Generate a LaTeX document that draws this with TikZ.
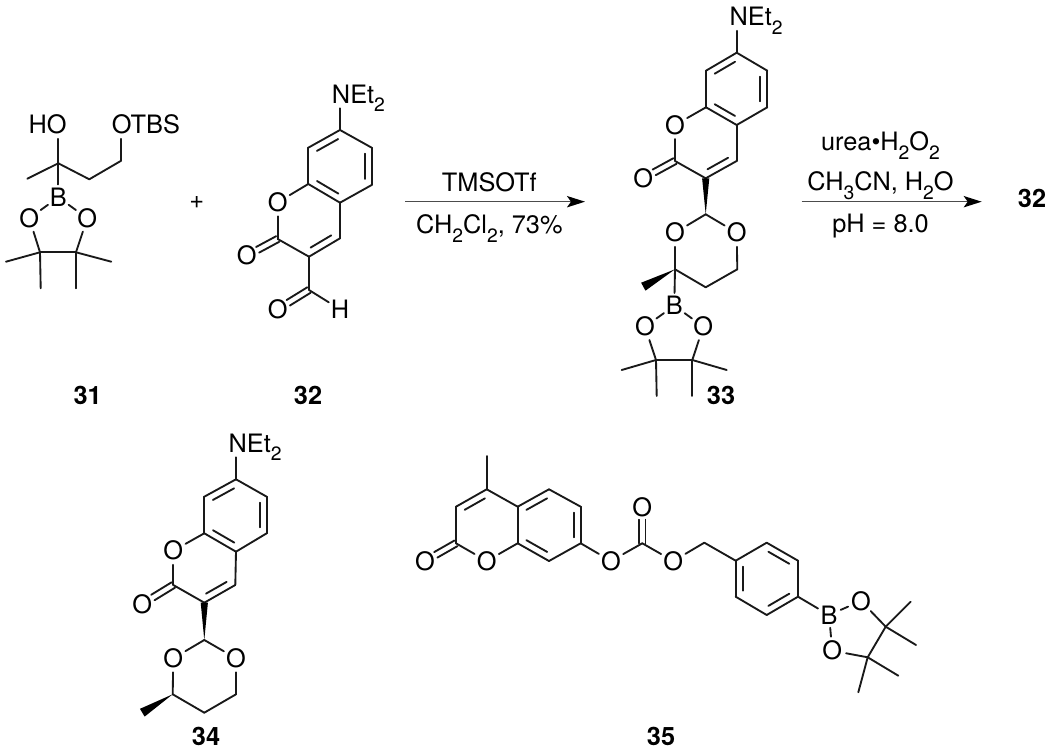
\documentclass[tikz,border=0pt]{standalone}
\usepackage{fontspec}
\setmainfont{TeX Gyre Heros}
\usetikzlibrary{calc,arrows.meta}
\newcommand{\subs}[1]{\raisebox{-0.32em}{\fontsize{14.5}{15}\selectfont #1}}
\newcommand{\dring}[2]{\draw[bond,shorten >=4.5pt,shorten <=4.5pt] ($(#1)!5.25pt!90:(#2)$) -- ($(#2)!5.25pt!-90:(#1)$);}
\newcommand{\dexo}[2]{%
  \draw[bond,shorten >=9.3pt] ($(#1)!2.4pt!90:(#2)$) -- ($(#2)!2.4pt!-90:(#1)$);
  \draw[bond,shorten >=9.3pt] ($(#1)!2.4pt!-90:(#2)$) -- ($(#2)!2.4pt!90:(#1)$);}
\newcommand{\wdg}[3]{\fill[black] (#1) -- ($(#2)!#3!90:(#1)$) -- ($(#2)!#3!-90:(#1)$) -- cycle;}
\newcommand{\bonds}[1]{\foreach \p/\q in {#1} {\draw[bond] (\p) -- (\q);}}
\tikzset{
  bond/.style={line width=1.4pt,line cap=round,line join=round,black!90},
  atom/.style={circle,inner sep=0pt,minimum size=18.5pt,font=\fontsize{19}{21}\selectfont},
  grp/.style={inner xsep=0pt,inner ysep=3.5pt,text depth=0pt,anchor=base west,font=\fontsize{19}{21}\selectfont},
  reag/.style={inner sep=0pt,anchor=base,font=\fontsize{19}{21}\selectfont},
  lab/.style={inner sep=0pt,anchor=base,font=\fontsize{19}{21}\selectfont\bfseries},
  rxn/.style={line width=1.2pt,black!70,-{Stealth[length=13.5pt,width=8.5pt,inset=3pt,black]}}
}
\begin{document}
\begin{tikzpicture}[x=0.75pt,y=-0.75pt]
\useasboundingbox (0,0) rectangle (1050,755);

% ---------- 31 ----------
\coordinate (a1) at (58.3,163.3);
\coordinate (a2) at (27.3,178.7);
\coordinate (a3) at (89.3,179.3);
\coordinate (a4) at (120.7,161);
\coordinate (a5) at (40,252.3);
\coordinate (a6) at (76,252.3);
\coordinate (a7) at (6,261.7);
\coordinate (a8) at (40.7,288.3);
\coordinate (a9) at (76,288.3);
\coordinate (a10) at (111.3,261.7);
\node[grp] (aho) at (28.3,134) {HO};
\node[grp] (aotbs) at (111.7,134) {OTBS};
\node[atom] (ab) at (58.3,197.3) {B};
\node[atom] (ao1) at (29.3,218.3) {O};
\node[atom] (ao2) at (87.3,218.3) {O};
\draw[bond] (a1) -- (a1 |- aho.south);
\draw[bond] (a4) -- (a4 |- aotbs.south);
\bonds{a1/a2,a1/a3,a3/a4,a1/ab,ab/ao1,ab/ao2,ao1/a5,ao2/a6,a5/a6,a5/a7,a5/a8,a6/a9,a6/a10}

\node[reag] (plus) at (196.7,209) {+};

% ---------- 32 ----------
\coordinate (b7) at (340,130);
\coordinate (b8) at (308.3,147.7);
\coordinate (b8a) at (308.3,184);
\coordinate (b4a) at (340,202.7);
\coordinate (b5) at (371.7,185);
\coordinate (b6) at (371.7,147.7);
\coordinate (b2) at (277.7,239);
\coordinate (b3) at (309,256.7);
\coordinate (b4) at (340,238.3);
\coordinate (bc) at (309,290);
\node[grp] (bn) at (331.7,103.3) {NEt\subs{2}};
\node[atom] (bo1) at (277.7,202.3) {O};
\node[atom] (bo2) at (246.7,255.7) {O};
\node[atom] (bo3) at (277.7,309.3) {O};
\node[atom] (bh) at (340,309.3) {H};
\draw[bond] (b7) -- (b7 |- bn.south);
\bonds{b7/b8,b8/b8a,b8a/b4a,b4a/b5,b5/b6,b6/b7,b8a/bo1,bo1/b2,b2/b3,b3/b4,b4/b4a,b3/bc,bc/bh}
\dring{b7}{b8}\dring{b8a}{b4a}\dring{b5}{b6}\dring{b3}{b4}
\dexo{b2}{bo2}\dexo{bc}{bo3}

\node[lab] (l31) at (87.7,405) {31};
\node[lab] (l32) at (308,405) {32};

% ---------- arrow 1 ----------
\coordinate (r1s) at (405,201.7);
\coordinate (r1e) at (585,201.7);
\draw[rxn] (r1s) -- (r1e);
\node[reag] (t1) at (489.3,191.7) {TMSOTf};
\node[reag] (t2) at (489.3,234) {CH\subs{2}Cl\subs{2}, 73\%};

% ---------- 33 ----------
\coordinate (c7) at (736.7,52.7);
\coordinate (c8) at (706,70.7);
\coordinate (c8a) at (706,107.3);
\coordinate (c4a) at (736.7,125);
\coordinate (c5) at (767.3,107.3);
\coordinate (c6) at (767.3,70.7);
\coordinate (c2) at (675,161);
\coordinate (c3) at (705.7,178.3);
\coordinate (c4) at (736.7,161);
\coordinate (cac) at (705.7,214.3);
\coordinate (cd4) at (675,269.3);
\coordinate (cd5) at (705.7,287.3);
\coordinate (cd6) at (737.3,269.3);
\coordinate (cme) at (643.3,286.7);
\coordinate (cp1) at (656,360);
\coordinate (cp2) at (692.3,360);
\coordinate (cm1) at (621.7,370);
\coordinate (cm2) at (656.7,396);
\coordinate (cm3) at (692.3,396);
\coordinate (cm4) at (726.7,370);
\node[grp] (cn) at (729.3,26) {NEt\subs{2}};
\node[atom] (co1) at (675,125) {O};
\node[atom] (co2) at (643.3,178.3) {O};
\node[atom] (co3) at (675,232.7) {O};
\node[atom] (co4) at (736.7,232.7) {O};
\node[atom] (cb) at (674.3,305.7) {B};
\node[atom] (co5) at (645,326.7) {O};
\node[atom] (co6) at (703.3,326.7) {O};
\draw[bond] (c7) -- (c7 |- cn.south);
\bonds{c7/c8,c8/c8a,c8a/c4a,c4a/c5,c5/c6,c6/c7,c8a/co1,co1/c2,c2/c3,c3/c4,c4/c4a,cac/co3,cac/co4,co3/cd4,cd4/cd5,cd5/cd6,cd6/co4,cd4/cb,cb/co5,cb/co6,co5/cp1,co6/cp2,cp1/cp2,cp1/cm1,cp1/cm2,cp2/cm3,cp2/cm4}
\dring{c7}{c8}\dring{c8a}{c4a}\dring{c5}{c6}\dring{c3}{c4}
\dexo{c2}{co2}
\wdg{cac}{c3}{2.7pt}
\wdg{cd4}{cme}{3.4pt}
\node[lab] (l33) at (721,405) {33};

% ---------- arrow 2 ----------
\coordinate (r2s) at (801.7,201.7);
\coordinate (r2e) at (981.7,201.7);
\draw[rxn] (r2s) -- (r2e);
\node[reag] (t3) at (880.5,151) {urea•H\subs{2}O\subs{2}};
\node[reag] (t4) at (880.5,191) {CH\subs{3}CN, H\subs{2}O};
\node[reag] (t5) at (880.5,233) {pH = 8.0};
\node[lab] (l32b) at (1032,208) {32};

% ---------- 34 ----------
\coordinate (d7) at (236,479.3);
\coordinate (d8) at (204.3,496.7);
\coordinate (d8a) at (204.3,533.3);
\coordinate (d4a) at (236,551.7);
\coordinate (d5) at (266.7,533.3);
\coordinate (d6) at (266.7,496.7);
\coordinate (d2) at (173.3,585);
\coordinate (d3) at (204.3,602.7);
\coordinate (d4) at (235.3,585);
\coordinate (dac) at (204.3,640);
\coordinate (dd4) at (172.7,694.3);
\coordinate (dd5) at (204.3,712.7);
\coordinate (dd6) at (236,694.3);
\coordinate (dme) at (142.3,712.7);
\node[grp] (dn) at (228.3,452.3) {NEt\subs{2}};
\node[atom] (do1) at (173.3,550.7) {O};
\node[atom] (do2) at (142.3,604) {O};
\node[atom] (do3) at (173.3,658.3) {O};
\node[atom] (do4) at (236,658.3) {O};
\draw[bond] (d7) -- (d7 |- dn.south);
\bonds{d7/d8,d8/d8a,d8a/d4a,d4a/d5,d5/d6,d6/d7,d8a/do1,do1/d2,d2/d3,d3/d4,d4/d4a,dac/do3,dac/do4,do3/dd4,dd4/dd5,dd5/dd6,dd6/do4}
\dring{d7}{d8}\dring{d8a}{d4a}\dring{d5}{d6}\dring{d3}{d4}
\dexo{d2}{do2}
\wdg{dac}{d3}{2.7pt}
\wdg{dd4}{dme}{3.4pt}
\node[lab] (l34) at (206,745) {34};

% ---------- 35 ----------
\coordinate (e2) at (456,543.3);
\coordinate (e3) at (456,506.7);
\coordinate (e4) at (486.7,489.3);
\coordinate (em) at (486.7,456);
\coordinate (e4a) at (517.7,506.7);
\coordinate (e8a) at (517.7,543.3);
\coordinate (e5) at (549,489.3);
\coordinate (e6) at (580.7,506.7);
\coordinate (e7) at (580.7,543.3);
\coordinate (e8) at (549,561);
\coordinate (eco) at (642.3,543.3);
\coordinate (ech) at (704.3,542.7);
\coordinate (f1) at (735.7,560.7);
\coordinate (f2) at (766.7,542.7);
\coordinate (f3) at (798,560.7);
\coordinate (f4) at (798,596.7);
\coordinate (f5) at (766.7,615);
\coordinate (f6) at (735.7,596.7);
\coordinate (g1) at (885.7,626.7);
\coordinate (g2) at (867.7,657.3);
\coordinate (g3) at (910.7,601.7);
\coordinate (g4) at (916,645);
\coordinate (g5) at (898.3,675.7);
\coordinate (g6) at (858.3,692.3);
\node[atom] (eo1) at (425,561) {O};
\node[atom] (eo2) at (486.7,561) {O};
\node[atom] (eo3) at (611,561) {O};
\node[atom] (eo4) at (642.3,507.3) {O};
\node[atom] (eo5) at (673.3,561) {O};
\node[atom] (eb) at (829,615) {B};
\node[atom] (eo6) at (861,601) {O};
\node[atom] (eo7) at (832.3,650.7) {O};
\bonds{e2/e3,e3/e4,e4/em,e4/e4a,e4a/e8a,e8a/eo2,eo2/e2,e4a/e5,e5/e6,e6/e7,e7/e8,e8/e8a,e7/eo3,eo3/eco,eco/eo5,eo5/ech,ech/f1,f1/f2,f2/f3,f3/f4,f4/f5,f5/f6,f6/f1,f4/eb,eb/eo6,eb/eo7,eo6/g1,eo7/g2,g1/g2,g1/g3,g1/g4,g2/g5,g2/g6}
\dring{e4}{e3}\dring{e5}{e4a}\dring{e8a}{e8}\dring{e7}{e6}
\dring{f1}{f6}\dring{f5}{f4}\dring{f3}{f2}
\dexo{e2}{eo1}\dexo{eco}{eo4}
\node[lab] (l35) at (661,745) {35};
\end{tikzpicture}
\end{document}
